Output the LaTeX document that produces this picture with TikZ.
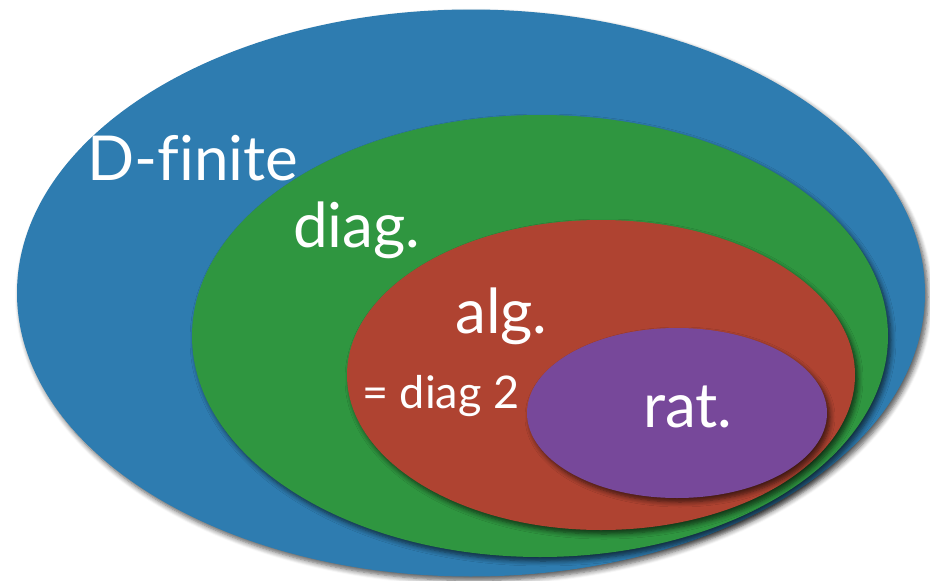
\documentclass[tikz,border=0pt]{standalone}
\usepackage{fontspec,xcolor,tikz}
\setmainfont[Ligatures=NoCommon]{Lato}
\usetikzlibrary{shapes.geometric,shadows.blur}
\definecolor{dfblue}{HTML}{2E7CB0}
\definecolor{diaggreen}{HTML}{2F9640}
\definecolor{algred}{HTML}{AF4331}
\definecolor{ratpurple}{HTML}{77489A}
\newcommand{\biglbl}{\fontsize{62}{70}\selectfont}
\newcommand{\smalllbl}{\fontsize{45}{50}\selectfont}

\begin{document}
\begin{tikzpicture}[x=1pt,y=-1pt,
  setshape/.style={ellipse,inner sep=0,draw=none,
    blur shadow={shadow xshift=3pt,shadow yshift=-4pt,shadow blur steps=6,shadow blur radius=5pt,shadow opacity=65}},
  setlbl/.style={anchor=base west,inner sep=0,text=white,font=\biglbl}]
\useasboundingbox (0,0) rectangle (930,581);
\node[setshape,fill=dfblue,minimum width=908pt,minimum height=567pt] (dfin) at (471,293) {};
\node[setshape,fill=diaggreen,minimum width=696pt,minimum height=442pt] (diag) at (540,336) {};
\node[setshape,fill=algred,minimum width=508pt,minimum height=310pt] (alg) at (601,375) {};
\node[setshape,fill=ratpurple,minimum width=300pt,minimum height=170pt] (rat) at (677,413) {};
\node[setlbl] (dfinlbl) at (87,180) {D-finite};
\node[setlbl] (diaglbl) at (293,247) {diag.};
\node[setlbl] (alglbl) at (455,333) {alg.};
\node[setlbl,font=\smalllbl] (diagtwo) at (362,408) {= diag 2};
\node[setlbl] (ratlbl) at (643,427) {rat.};
\end{tikzpicture}
\end{document}
